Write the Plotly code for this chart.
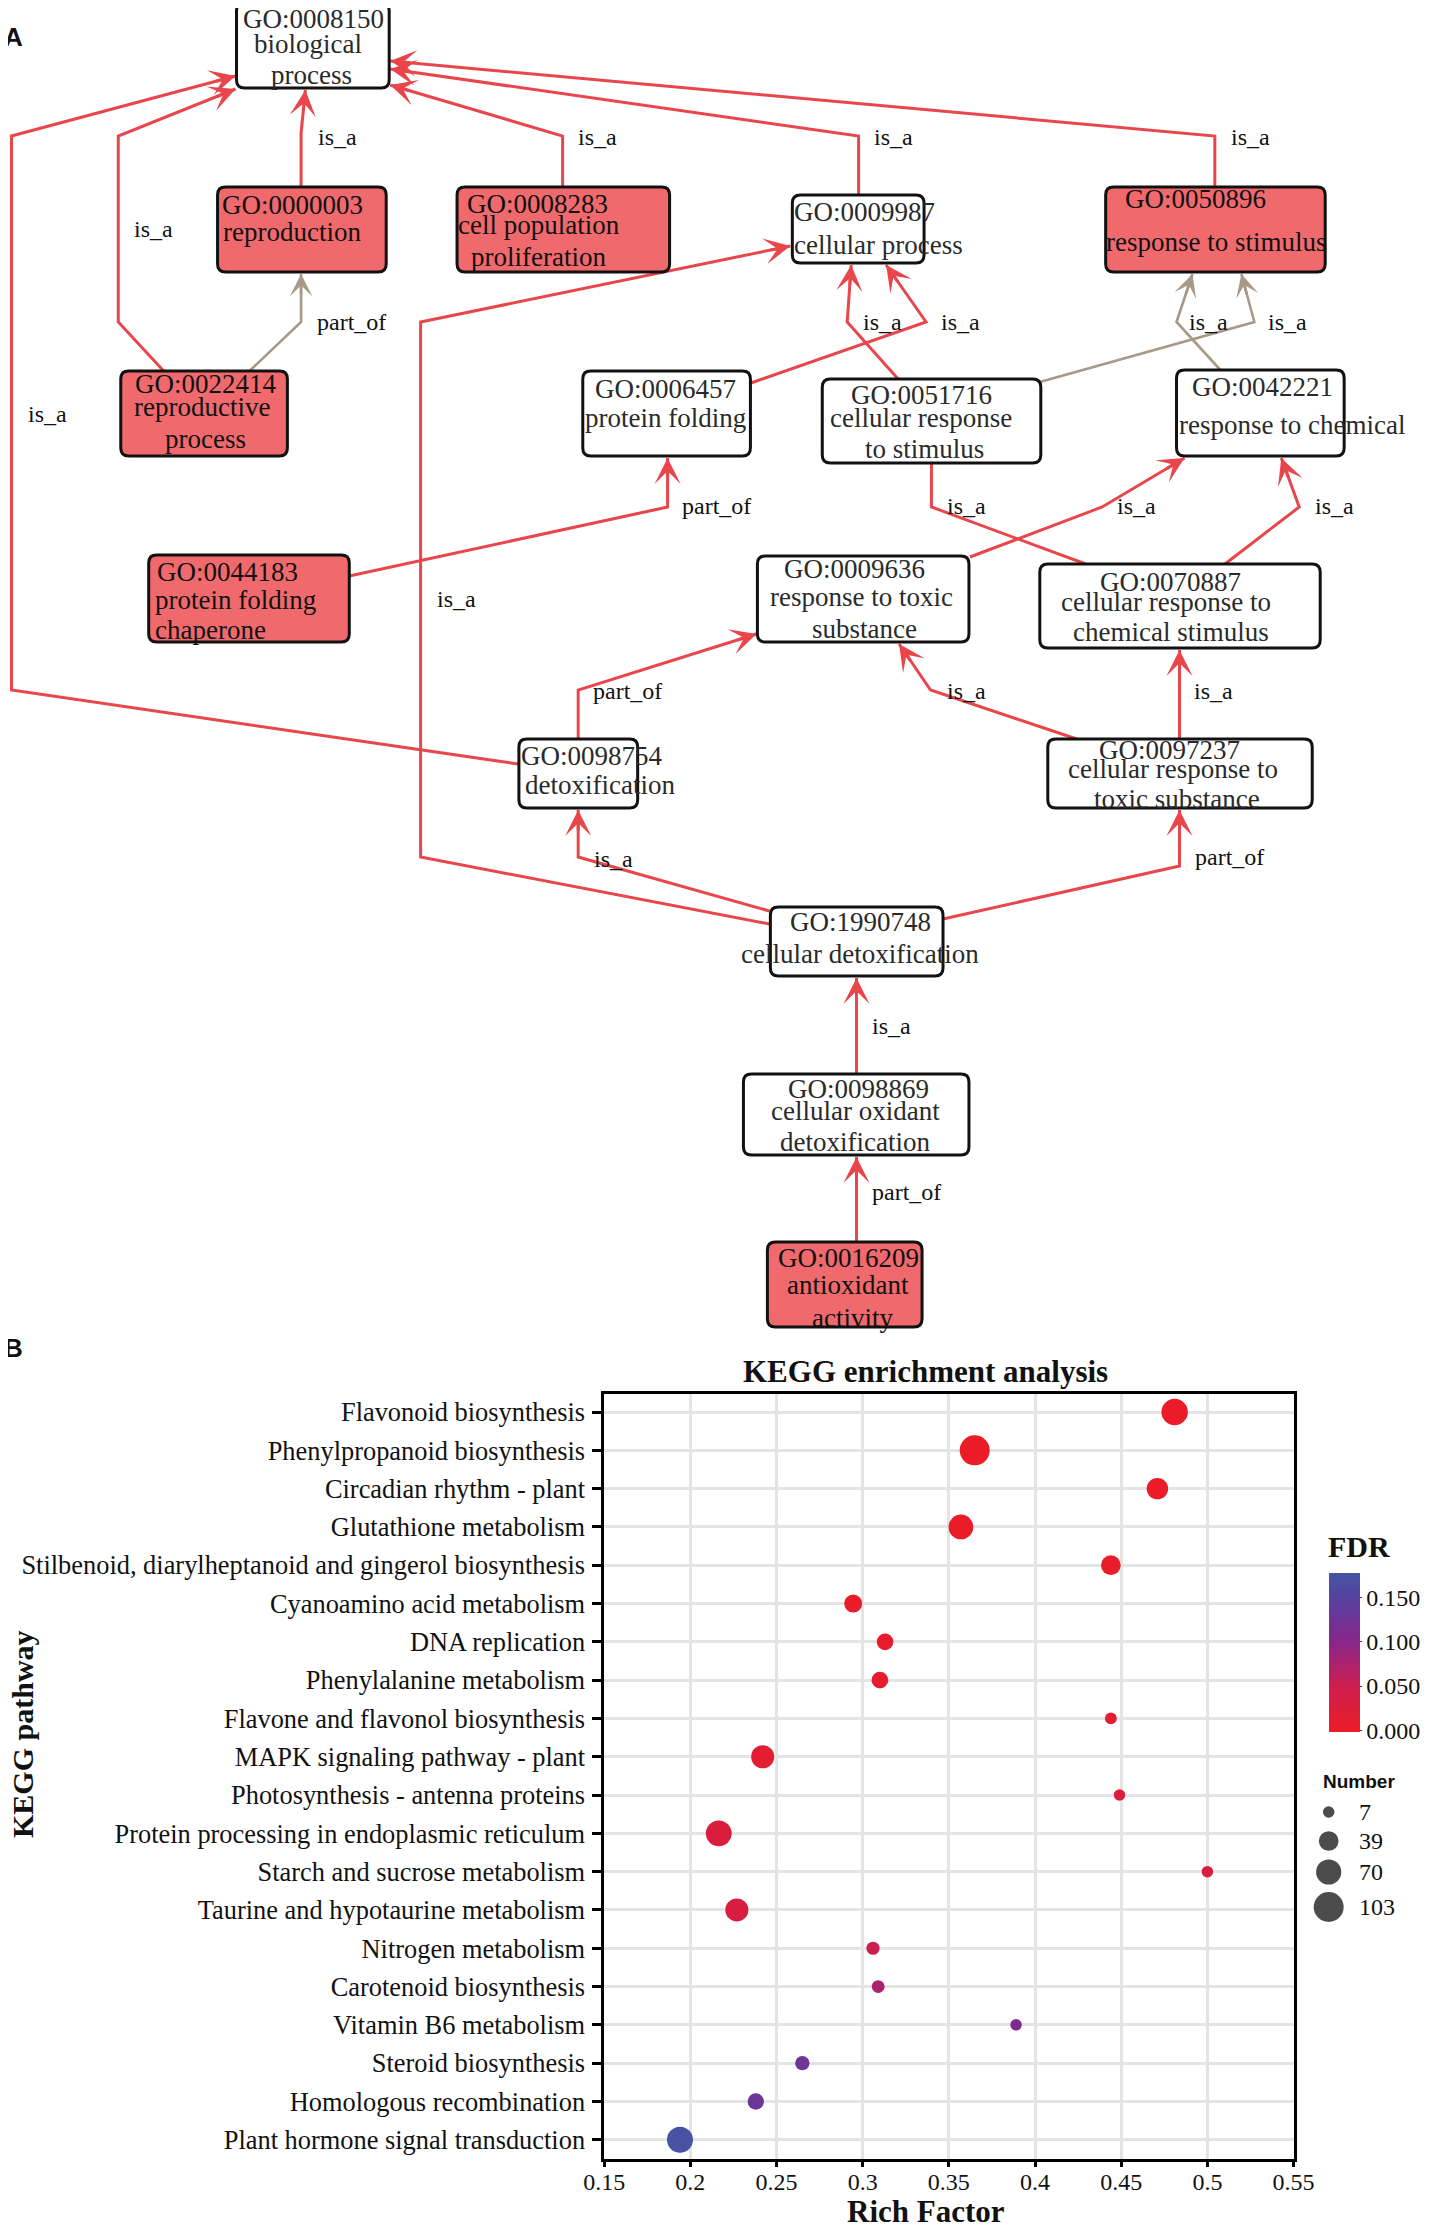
import math
import plotly.graph_objects as go

# ------------------------------------------------------------------
# Panel B data: KEGG enrichment
# ------------------------------------------------------------------
pathways = [
    "Flavonoid biosynthesis", "Phenylpropanoid biosynthesis", "Circadian rhythm - plant",
    "Glutathione metabolism", "Stilbenoid, diarylheptanoid and gingerol biosynthesis",
    "Cyanoamino acid metabolism", "DNA replication", "Phenylalanine metabolism",
    "Flavone and flavonol biosynthesis", "MAPK signaling pathway - plant",
    "Photosynthesis - antenna proteins", "Protein processing in endoplasmic reticulum",
    "Starch and sucrose metabolism", "Taurine and hypotaurine metabolism",
    "Nitrogen metabolism", "Carotenoid biosynthesis", "Vitamin B6 metabolism",
    "Steroid biosynthesis", "Homologous recombination", "Plant hormone signal transduction",
]
rich_factor = [0.481, 0.365, 0.471, 0.357, 0.444, 0.2945, 0.313, 0.310, 0.444, 0.242,
               0.449, 0.2165, 0.500, 0.227, 0.306, 0.309, 0.389, 0.265, 0.238, 0.194]
gene_number = [78, 103, 48, 67, 39, 31, 25, 25, 8, 57, 7, 74, 7, 57, 12, 11, 7, 16, 24, 75]
fdr = [0.001, 0.001, 0.002, 0.003, 0.004, 0.006, 0.008, 0.010, 0.012, 0.015,
       0.025, 0.028, 0.030, 0.032, 0.050, 0.075, 0.110, 0.125, 0.130, 0.175]
x_tickvals = [0.15, 0.2, 0.25, 0.3, 0.35, 0.4, 0.45, 0.5, 0.55]
x_ticktext = ["0.15", "0.2", "0.25", "0.3", "0.35", "0.4", "0.45", "0.5", "0.55"]
fdr_tickvals = [0.0, 0.05, 0.1, 0.15]
fdr_ticktext = ["0.000", "0.050", "0.100", "0.150"]
number_legend = [7, 39, 70, 103]

# ------------------------------------------------------------------
# Panel A data: GO graph
# ------------------------------------------------------------------
go_nodes = ["GO:0008150", "GO:0000003", "GO:0008283", "GO:0022414", "GO:0006457",
            "GO:0009987", "GO:0050896", "GO:0051716", "GO:0042221", "GO:0044183",
            "GO:0009636", "GO:0070887", "GO:0098754", "GO:0097237", "GO:1990748",
            "GO:0098869", "GO:0016209"]
go_names = ["biological process", "reproduction", "cell population proliferation",
            "reproductive process", "protein folding", "cellular process",
            "response to stimulus", "cellular response to stimulus", "response to chemical",
            "protein folding chaperone", "response to toxic substance",
            "cellular response to chemical stimulus", "detoxification",
            "cellular response to toxic substance", "cellular detoxification",
            "cellular oxidant detoxification", "antioxidant activity"]
go_significant = ["GO:0000003", "GO:0008283", "GO:0022414", "GO:0050896",
                  "GO:0044183", "GO:0016209"]
go_edges = [  # (child, parent, relation)
    ("GO:0098754", "GO:0008150", "is_a"), ("GO:0022414", "GO:0008150", "is_a"),
    ("GO:0000003", "GO:0008150", "is_a"), ("GO:0022414", "GO:0000003", "part_of"),
    ("GO:0008283", "GO:0008150", "is_a"), ("GO:0050896", "GO:0008150", "is_a"),
    ("GO:0009987", "GO:0008150", "is_a"), ("GO:0044183", "GO:0006457", "part_of"),
    ("GO:1990748", "GO:0009987", "is_a"), ("GO:0006457", "GO:0009987", "is_a"),
    ("GO:0051716", "GO:0009987", "is_a"), ("GO:0051716", "GO:0050896", "is_a"),
    ("GO:0042221", "GO:0050896", "is_a"), ("GO:0070887", "GO:0051716", "is_a"),
    ("GO:0009636", "GO:0042221", "is_a"), ("GO:0070887", "GO:0042221", "is_a"),
    ("GO:0098754", "GO:0009636", "part_of"), ("GO:0097237", "GO:0009636", "is_a"),
    ("GO:0097237", "GO:0070887", "is_a"), ("GO:1990748", "GO:0098754", "is_a"),
    ("GO:1990748", "GO:0097237", "part_of"), ("GO:0098869", "GO:1990748", "is_a"),
    ("GO:0016209", "GO:0098869", "part_of"),
]
gray_edges = [("GO:0022414", "GO:0000003"), ("GO:0051716", "GO:0050896"),
              ("GO:0042221", "GO:0050896")]

# ------------------------------------------------------------------
# Graph layout (pixel geometry of the Graphviz-style drawing, page pixels)
# ------------------------------------------------------------------
BOX = {  # x0, y0, x1, y1
    "GO:0008150": (237, 3, 390, 88), "GO:0000003": (218, 187, 387, 272),
    "GO:0008283": (458, 187, 671, 272), "GO:0022414": (121, 371, 288, 456),
    "GO:0006457": (584, 371, 752, 456), "GO:0009987": (794, 195, 926, 263),
    "GO:0050896": (1108, 187, 1328, 272), "GO:0051716": (824, 379, 1043, 463),
    "GO:0042221": (1179, 370, 1347, 456), "GO:0044183": (149, 555, 350, 642),
    "GO:0009636": (759, 556, 971, 642), "GO:0070887": (1042, 564, 1323, 648),
    "GO:0098754": (520, 739, 639, 808), "GO:0097237": (1050, 739, 1315, 808),
    "GO:1990748": (772, 907, 945, 976), "GO:0098869": (745, 1074, 971, 1155),
    "GO:0016209": (769, 1242, 924, 1327),
}
LINES = {  # label line break-up and (cx, cy) of each line
    "GO:0008150": [("biological", 309, 44), ("process", 312, 75)],
    "GO:0000003": [("reproduction", 293, 232)],
    "GO:0008283": [("cell population", 540, 225), ("proliferation", 540, 257)],
    "GO:0022414": [("reproductive", 202, 407), ("process", 206, 439)],
    "GO:0006457": [("protein folding", 667, 418)],
    "GO:0009987": [("cellular process", 880, 245)],
    "GO:0050896": [("response to stimulus", 1219, 242)],
    "GO:0051716": [("cellular response", 923, 418), ("to stimulus", 926, 449)],
    "GO:0042221": [("response to chemical", 1295, 425)],
    "GO:0044183": [("protein folding", 236, 600), ("chaperone", 211, 630)],
    "GO:0009636": [("response to toxic", 863, 597), ("substance", 866, 629)],
    "GO:0070887": [("cellular response to", 1168, 602), ("chemical stimulus", 1173, 632)],
    "GO:0098754": [("detoxification", 601, 785)],
    "GO:0097237": [("cellular response to", 1175, 769), ("toxic substance", 1179, 799)],
    "GO:1990748": [("cellular detoxification", 862, 954)],
    "GO:0098869": [("cellular oxidant", 857, 1111), ("detoxification", 857, 1142)],
    "GO:0016209": [("antioxidant", 850, 1285), ("activity", 854, 1318)],
}
ID_POS = {
    "GO:0008150": (314, 19), "GO:0000003": (293, 205), "GO:0008283": (539, 204),
    "GO:0022414": (206, 384), "GO:0006457": (667, 389), "GO:0009987": (866, 212),
    "GO:0050896": (1198, 199), "GO:0051716": (923, 395), "GO:0042221": (1265, 387),
    "GO:0044183": (228, 572), "GO:0009636": (856, 569), "GO:0070887": (1173, 582),
    "GO:0098754": (593, 756), "GO:0097237": (1172, 750), "GO:1990748": (862, 922),
    "GO:0098869": (860, 1089), "GO:0016209": (850, 1258),
}
ROUTE = {  # polyline of each edge, last point = arrow tip
    ("GO:0098754", "GO:0008150"): [(519, 764), (11.5, 690), (11.5, 136), (236, 76)],
    ("GO:0022414", "GO:0008150"): [(164, 371), (118.5, 322), (118.5, 136), (236, 89)],
    ("GO:0000003", "GO:0008150"): [(301.7, 187), (301.7, 133), (306, 90)],
    ("GO:0022414", "GO:0000003"): [(250, 371), (301.7, 322), (301.7, 274)],
    ("GO:0008283", "GO:0008150"): [(563.8, 187), (563.8, 136), (391, 85)],
    ("GO:0050896", "GO:0008150"): [(1217.4, 187), (1217.4, 136), (391, 61)],
    ("GO:0009987", "GO:0008150"): [(860.4, 195), (860.4, 136), (391, 69)],
    ("GO:0044183", "GO:0006457"): [(350, 576), (669, 507), (669, 458)],
    ("GO:1990748", "GO:0009987"): [(771, 924), (421.5, 857), (421.5, 322), (792, 246)],
    ("GO:0006457", "GO:0009987"): [(752.5, 383), (928, 322), (888, 265)],
    ("GO:0051716", "GO:0009987"): [(900, 379), (849, 322), (853, 265)],
    ("GO:0051716", "GO:0050896"): [(1042, 382), (1257, 322), (1244, 274)],
    ("GO:0042221", "GO:0050896"): [(1223, 370), (1179, 322), (1195, 274)],
    ("GO:0070887", "GO:0051716"): [(1088, 564), (933.4, 507), (933.4, 464)],
    ("GO:0009636", "GO:0042221"): [(972, 557), (1104.5, 507), (1187, 458)],
    ("GO:0070887", "GO:0042221"): [(1227.6, 564), (1302, 507), (1284, 458)],
    ("GO:0098754", "GO:0009636"): [(579.4, 739), (579.4, 690), (758, 634)],
    ("GO:0097237", "GO:0009636"): [(1079, 739), (932.5, 690), (901, 644)],
    ("GO:0097237", "GO:0070887"): [(1182, 739), (1182, 650)],
    ("GO:1990748", "GO:0098754"): [(771, 911), (579.4, 857), (579.4, 810)],
    ("GO:1990748", "GO:0097237"): [(945, 919), (1182, 866), (1182, 810)],
    ("GO:0098869", "GO:1990748"): [(858.3, 1074), (858.3, 978)],
    ("GO:0016209", "GO:0098869"): [(858.3, 1242), (858.3, 1157)],
}
LABEL_POS = {
    ("GO:0098754", "GO:0008150"): (48, 414), ("GO:0022414", "GO:0008150"): (154, 229),
    ("GO:0000003", "GO:0008150"): (338, 137), ("GO:0022414", "GO:0000003"): (352, 322),
    ("GO:0008283", "GO:0008150"): (599, 137), ("GO:0050896", "GO:0008150"): (1253, 137),
    ("GO:0009987", "GO:0008150"): (895, 137), ("GO:0044183", "GO:0006457"): (718, 506),
    ("GO:1990748", "GO:0009987"): (457, 599), ("GO:0006457", "GO:0009987"): (963, 322),
    ("GO:0051716", "GO:0009987"): (884, 322), ("GO:0051716", "GO:0050896"): (1290, 322),
    ("GO:0042221", "GO:0050896"): (1211, 322), ("GO:0070887", "GO:0051716"): (969, 506),
    ("GO:0009636", "GO:0042221"): (1139, 506), ("GO:0070887", "GO:0042221"): (1337, 506),
    ("GO:0098754", "GO:0009636"): (629, 691), ("GO:0097237", "GO:0009636"): (969, 691),
    ("GO:0097237", "GO:0070887"): (1216, 691), ("GO:1990748", "GO:0098754"): (615, 859),
    ("GO:1990748", "GO:0097237"): (1232, 857), ("GO:0098869", "GO:1990748"): (893, 1026),
    ("GO:0016209", "GO:0098869"): (908, 1192),
}
HIDDEN_HEAD = {("GO:0070887", "GO:0051716")}

# page is 1429 x 2233; the default 8 px body margin surrounds the figure
PAGE_W, PAGE_H, OFF = 1429, 2233, 8
W, H = PAGE_W - 2 * OFF, PAGE_H - 2 * OFF


def px(X):  # page x pixel -> paper fraction
    return (X - OFF) / W


def py(Y):  # page y pixel -> paper fraction (from bottom)
    return (H + OFF - Y) / H


SERIF = "Liberation Serif, Times New Roman, serif"
SANS = "Liberation Sans, Arial, sans-serif"
RED_EDGE = "#E8464B"
GRAY_EDGE = "#A89886"
RED_FILL = "#F0696D"

fig = go.Figure()
annotations = []
shapes = []


def rrect(x0, y0, x1, y1, r=8):
    # rounded rectangle in paper coordinates (page pixels converted)
    def P(x, y):
        return f"{px(x):.6f},{py(y):.6f}"
    return (f"M{P(x0 + r, y0)} L{P(x1 - r, y0)} Q{P(x1, y0)} {P(x1, y0 + r)} "
            f"L{P(x1, y1 - r)} Q{P(x1, y1)} {P(x1 - r, y1)} L{P(x0 + r, y1)} "
            f"Q{P(x0, y1)} {P(x0, y1 - r)} L{P(x0, y0 + r)} Q{P(x0, y0)} {P(x0 + r, y0)} Z")


# edges
for child, parent, rel in go_edges:
    key = (child, parent)
    pts = ROUTE[key]
    col = GRAY_EDGE if key in gray_edges else RED_EDGE
    lw = 2.6 if key in gray_edges else 3
    fig.add_trace(go.Scatter(
        x=[p[0] for p in pts], y=[p[1] for p in pts], mode="lines",
        line=dict(color=col, width=lw), xaxis="x2", yaxis="y2",
        hoverinfo="skip", showlegend=False))
    if key not in HIDDEN_HEAD:
        (xa, ya), (xb, yb) = pts[-2], pts[-1]
        d = math.hypot(xb - xa, yb - ya)
        bx, by = xb - (xb - xa) / d * 22, yb - (yb - ya) / d * 22
        annotations.append(dict(
            x=xb, y=yb, ax=bx, ay=by, xref="x2", yref="y2", axref="x2", ayref="y2",
            text="", showarrow=True, arrowhead=3, arrowsize=1.45, arrowwidth=lw,
            arrowcolor=col, standoff=0))
    lx, ly = LABEL_POS[key]
    annotations.append(dict(
        x=lx, y=ly, xref="x2", yref="y2", text=rel, showarrow=False,
        font=dict(family=SERIF, size=24, color="#111"), xanchor="center", yanchor="middle"))

# nodes
for gid, name in zip(go_nodes, go_names):
    x0, y0, x1, y1 = BOX[gid]
    sig = gid in go_significant
    shapes.append(dict(
        type="path", path=rrect(x0, y0, x1, y1), xref="paper", yref="paper",
        fillcolor=RED_FILL if sig else "white", line=dict(color="#111", width=3),
        layer="above"))
    tcol = "#111" if sig else "#2a2a2a"
    ix, iy = ID_POS[gid]
    annotations.append(dict(x=ix, y=iy, xref="x2", yref="y2", text=gid, showarrow=False,
                            font=dict(family=SERIF, size=27, color=tcol),
                            xanchor="center", yanchor="middle"))
    for txt, cx, cy in LINES[gid]:
        annotations.append(dict(x=cx, y=cy, xref="x2", yref="y2", text=txt, showarrow=False,
                                font=dict(family=SERIF, size=27, color=tcol),
                                xanchor="center", yanchor="middle"))

# ------------------------------------------------------------------
# Panel B: bubble chart
# ------------------------------------------------------------------
def diam(n):
    return math.sqrt(11.5 ** 2 + 8.0 * (n - 7))


colorscale = [[0.0, "#ED1C24"], [0.29, "#CD1E50"], [0.57, "#87268C"],
              [0.85, "#5542A0"], [1.0, "#4655A5"]]

fig.add_trace(go.Scatter(
    x=rich_factor, y=pathways, mode="markers",
    marker=dict(size=[diam(n) for n in gene_number], color=fdr, colorscale=colorscale,
                cmin=-0.002, cmax=0.178, opacity=1, line=dict(width=0),
                colorbar=dict(
                    x=px(1332), xanchor="left", y=py(1652.5), yanchor="middle",
                    xpad=0, ypad=0,
                    thickness=31, thicknessmode="pixels", len=159, lenmode="pixels",
                    outlinewidth=0, tickvals=fdr_tickvals, ticktext=fdr_ticktext,
                    ticks="outside", ticklen=2, tickcolor="#444",
                    tickfont=dict(family=SERIF, size=24, color="#111"))),
    xaxis="x", yaxis="y", showlegend=False, hoverinfo="skip"))

# size legend
legend_y = [1812, 1841, 1872, 1907]
fig.add_trace(go.Scatter(
    x=[1331.5] * len(number_legend), y=legend_y, mode="markers",
    marker=dict(size=[diam(n) for n in number_legend], color="black", line=dict(width=0)),
    xaxis="x2", yaxis="y2", showlegend=False, hoverinfo="skip"))
for n, yy in zip(number_legend, legend_y):
    annotations.append(dict(x=1360, y=yy, xref="x2", yref="y2", text=str(n), showarrow=False,
                            font=dict(family=SERIF, size=24, color="#111"),
                            xanchor="left", yanchor="middle"))

annotations += [
    dict(x=1324, y=1781, xref="x2", yref="y2", text="<b>Number</b>", showarrow=False,
         font=dict(family=SANS, size=19, color="#111"), xanchor="left", yanchor="middle"),
    dict(x=1329, y=1546, xref="x2", yref="y2", text="<b>FDR</b>", showarrow=False,
         font=dict(family=SERIF, size=30, color="#111"), xanchor="left", yanchor="middle"),
    dict(x=927, y=1371, xref="x2", yref="y2", text="<b>KEGG enrichment analysis</b>",
         showarrow=False, font=dict(family=SERIF, size=31, color="#111"),
         xanchor="center", yanchor="middle"),
    dict(x=928, y=2211, xref="x2", yref="y2", text="<b>Rich Factor</b>", showarrow=False,
         font=dict(family=SERIF, size=31, color="#111"), xanchor="center", yanchor="middle"),
    dict(x=22, y=1734, xref="x2", yref="y2", text="<b>KEGG pathway</b>", showarrow=False,
         textangle=-90, font=dict(family=SERIF, size=30, color="#111"),
         xanchor="center", yanchor="middle"),
    dict(x=14, y=37, xref="x2", yref="y2", text="<b>A</b>", showarrow=False,
         font=dict(family=SANS, size=26, color="#111"), xanchor="center", yanchor="middle"),
    dict(x=14, y=1348, xref="x2", yref="y2", text="<b>B</b>", showarrow=False,
         font=dict(family=SANS, size=26, color="#111"), xanchor="center", yanchor="middle"),
]

fig.update_layout(
    width=W, height=H, autosize=False, margin=dict(l=0, r=0, t=0, b=0),
    paper_bgcolor="white", plot_bgcolor="rgba(0,0,0,0)",
    showlegend=False, shapes=shapes, annotations=annotations,
    xaxis=dict(domain=[px(605.4), px(1296.3)], range=[0.15, 0.55], tickvals=x_tickvals,
               ticktext=x_ticktext, showgrid=True, gridcolor="#E4E4E4", gridwidth=2.5,
               zeroline=False, showline=True, linecolor="black", linewidth=2.5, mirror=True,
               ticks="outside", ticklen=5, tickwidth=2.5, tickcolor="black",
               ticklabelstandoff=-6,
               tickfont=dict(family=SERIF, size=24, color="#111"), automargin=False),
    yaxis=dict(domain=[py(2159.3), py(1394)], type="category",
               categoryorder="array", categoryarray=pathways, range=[19.51, -0.47],
               showgrid=True, gridcolor="#E4E4E4", gridwidth=2.5, zeroline=False,
               showline=True, linecolor="black", linewidth=2.5, mirror=True,
               ticks="outside", ticklen=9, tickwidth=3, tickcolor="black",
               ticklabelstandoff=2,
               tickfont=dict(family=SERIF, size=26.4, color="#111"), automargin=False),
    xaxis2=dict(domain=[0, 1], range=[OFF, OFF + W], visible=False, anchor="y2"),
    yaxis2=dict(domain=[0, 1], range=[OFF + H, OFF], visible=False, anchor="x2"),
)

fig.write_html("out.html", config=dict(responsive=False, displayModeBar=False),
               post_script="document.querySelectorAll('.main-svg').forEach("
                           "function(s){s.style.overflow='visible';});")
